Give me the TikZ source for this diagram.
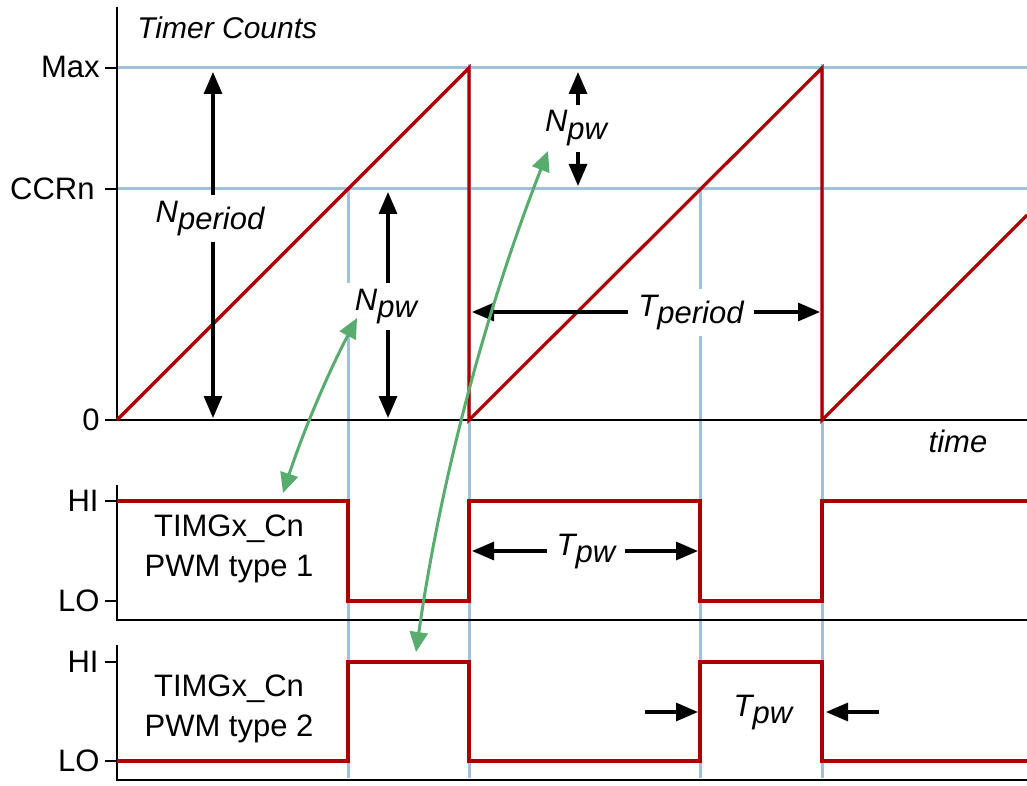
\documentclass[tikz,border=0pt]{standalone}
\usepackage{fontspec}
\setmainfont{Liberation Sans}
\usetikzlibrary{arrows.meta}
\definecolor{wave}{RGB}{172,0,0}
\definecolor{gridc}{RGB}{160,192,222}
\definecolor{linkc}{RGB}{88,172,110}
\newcommand\sublbl[2]{\textit{#1\raisebox{-0.25em}{#2}}}
\begin{document}
\begin{tikzpicture}[x=0.5pt,y=-0.5pt,
 font=\fontsize{15.5}{20}\selectfont,
 axis/.style={line width=1pt, black},
 tickmark/.style={line width=1.4pt, black},
 gridline/.style={line width=1.5pt, gridc},
 signal/.style={line width=1.6pt, wave},
 dim/.style={line width=1.6pt, {Triangle[length=11pt,width=9pt]}-{Triangle[length=11pt,width=9pt]}},
 dimin/.style={line width=1.6pt, -{Triangle[length=11pt,width=9pt]}},
 link/.style={line width=1.5pt, linkc, {Triangle[length=10pt,width=9pt]}-{Triangle[length=10pt,width=9pt]}},
 lbl/.style={fill=white, inner xsep=5pt, inner ysep=3pt, anchor=base},
 ticklbl/.style={anchor=east, inner sep=0pt},
]
\useasboundingbox (0,0) rectangle (1027,786);

% grid lines
\draw[gridline] (117,68) -- (1027,68);
\draw[gridline] (117,189) -- (1027,189);
\draw[gridline] (348,189) -- (348,778);
\draw[gridline] (700,189) -- (700,778);
\draw[gridline] (469,64) -- (469,778);
\draw[gridline] (822,64) -- (822,778);

% axes
\draw[axis] (117,7) -- (117,420) -- (1027,420);
\draw[axis] (117,485) -- (117,620) -- (1027,620);
\draw[axis] (117,645) -- (117,780) -- (1027,780);
\foreach \yy in {68,189,420,501,601,662,761}
  \draw[tickmark] (105,\yy) -- (117,\yy);

% tick labels
\node[ticklbl] (lmax) at (100,67) {Max};
\node[ticklbl] (lccr) at (95,189) {CCRn};
\node[ticklbl] (lzero) at (100,420) {0};
\node[ticklbl] (lhi1) at (99,501) {HI};
\node[ticklbl] (llo1) at (100,601) {LO};
\node[ticklbl] (lhi2) at (99,662) {HI};
\node[ticklbl] (llo2) at (100,761) {LO};

% titles
\node[anchor=base west, inner sep=0pt, font=\fontsize{15}{18}\selectfont] (title) at (137,39) {\itshape Timer Counts};
\node[inner sep=0pt] (timelbl) at (958,441) {\itshape time};
\node[align=center, inner sep=0pt] (pwm1) at (229,549) {TIMGx\_Cn\\PWM type 1};
\node[align=center, inner sep=0pt] (pwm2) at (229,709) {TIMGx\_Cn\\PWM type 2};

% signals
\draw[signal] (117,420) -- (469,68) -- (469,420) -- (822,68) -- (822,420) -- (1027,215);
\draw[signal] (117,501) -- (348,501) -- (348,601) -- (469,601) -- (469,501) -- (700,501) -- (700,601) -- (822,601) -- (822,501) -- (1027,501);
\draw[signal] (117,761) -- (348,761) -- (348,662) -- (469,662) -- (469,761) -- (700,761) -- (700,662) -- (822,662) -- (822,761) -- (1027,761);

% dimension arrows
\coordinate (npa) at (213,72);
\coordinate (npb) at (213,418);
\draw[dim] (npa) -- (npb);
\node[lbl] (nperiod) at (210,222) {\sublbl{N}{period}};

\coordinate (nw1a) at (388,192);
\coordinate (nw1b) at (388,418);
\draw[dim] (nw1a) -- (nw1b);
\node[lbl] (npw1) at (386,310) {\sublbl{N}{pw}};

\coordinate (nw2a) at (578,72);
\coordinate (nw2b) at (578,186);
\draw[dim] (nw2a) -- (nw2b);
\node[lbl] (npw2) at (576,132) {\sublbl{N}{pw}};

\coordinate (tpa) at (472,312);
\coordinate (tpb) at (820,312);
\draw[dim] (tpa) -- (tpb);
\node[lbl] (tperiod) at (691,316) {\sublbl{T}{period}};

\coordinate (tw1a) at (472,551);
\coordinate (tw1b) at (698,551);
\draw[dim] (tw1a) -- (tw1b);
\node[lbl] (tpw1) at (586,555) {\sublbl{T}{pw}};

\coordinate (tw2a) at (645,712);
\coordinate (tw2b) at (698,712);
\coordinate (tw2c) at (879,712);
\coordinate (tw2d) at (826,712);
\draw[dimin] (tw2a) -- (tw2b);
\draw[dimin] (tw2c) -- (tw2d);
\node[anchor=base, inner sep=0pt] (tpw2) at (763,716) {\sublbl{T}{pw}};

% green links
\coordinate (g1a) at (283,493);
\coordinate (g1b) at (357,318);
\draw[link] (g1a) .. controls (302.8,432.6) and (327.4,374.2) .. (g1b);
\coordinate (g2a) at (416,652);
\coordinate (g2b) at (548,151);
\draw[link] (g2a) .. controls (440.7,480) and (484.7,313) .. (g2b);
\end{tikzpicture}
\end{document}
